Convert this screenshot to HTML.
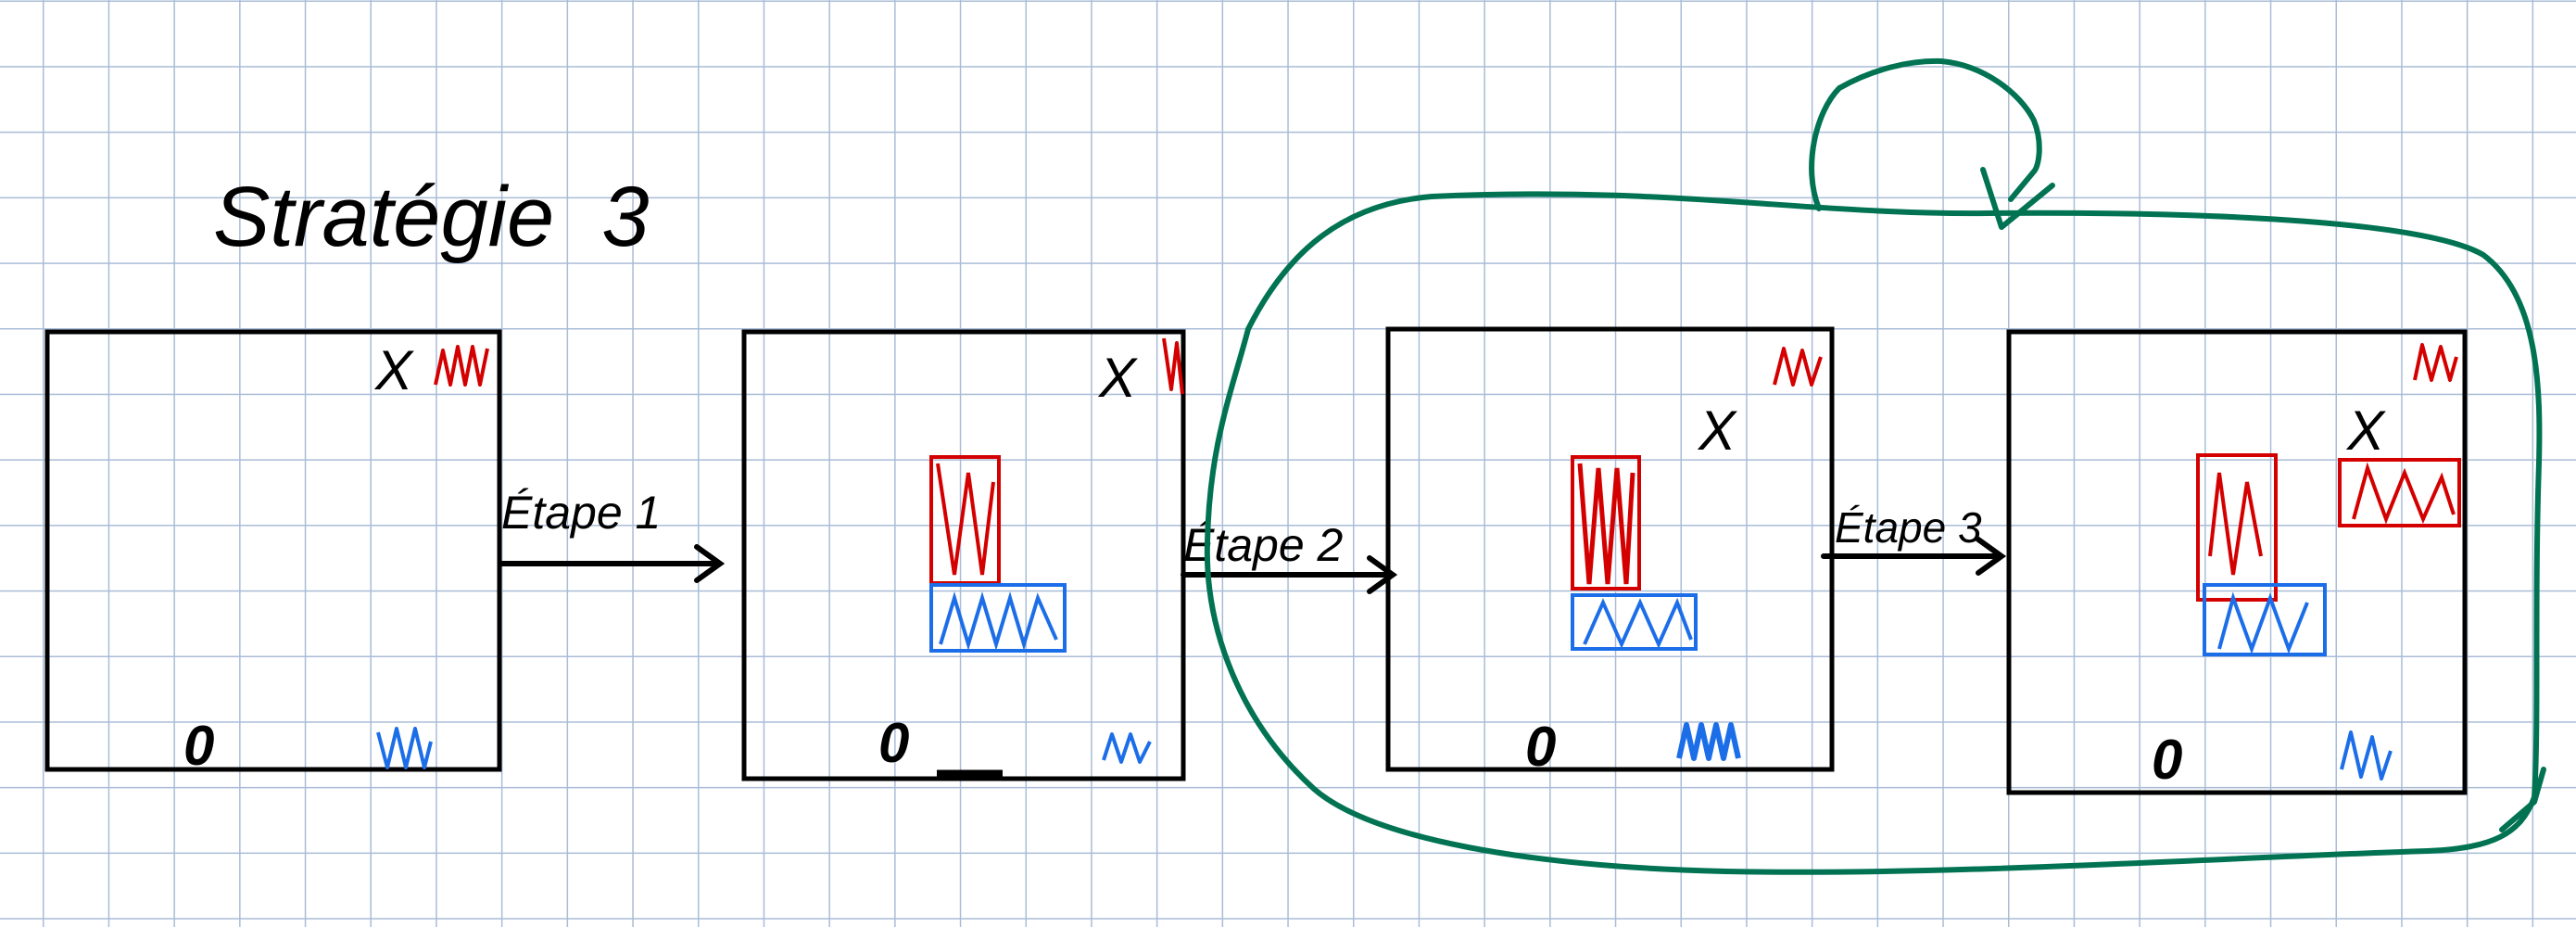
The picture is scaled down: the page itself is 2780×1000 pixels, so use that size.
<!DOCTYPE html>
<html><head><meta charset="utf-8"><style>
html,body{margin:0;padding:0;background:#fff;}
svg{display:block;}
text{font-family:"Liberation Sans",sans-serif;}
</style></head><body>
<svg width="2780" height="1000" viewBox="0 0 2780 1000">
<defs>
<pattern id="grid" x="46" y="0.5" width="70.7" height="70.7" patternUnits="userSpaceOnUse">
<path d="M0 0 H70.7 M0 0 V70.7" stroke="#a9bcd7" stroke-width="3" fill="none"/>
</pattern>
</defs>
<rect width="2780" height="1000" fill="url(#grid)"/>

<text x="230" y="265" font-size="92" font-style="italic" fill="#000">Stratégie&#160;&#160;3</text>

<g stroke="#000" stroke-width="5" fill="none">
<rect x="51" y="358" width="488" height="472"/>
<rect x="803" y="358" width="474" height="482"/>
<rect x="1498" y="355" width="479" height="475"/>
<rect x="2168" y="358" width="492" height="497"/>
</g>

<!-- arrows -->
<g stroke="#000" stroke-width="6" fill="none" stroke-linecap="round">
<path d="M541 608 H775 M752 590 L777 608 L752 626"/>
<path d="M1277 620 H1501 M1478 602 L1503 620 L1478 638"/>
<path d="M1968 600 H2158 M2135 582 L2160 600 L2135 618"/>
</g>
<text x="541" y="570" font-size="50" font-style="italic">Étape 1</text>
<text x="1277" y="605" font-size="50" font-style="italic">Étape 2</text>
<text x="1980" y="585" font-size="46" font-style="italic">Étape 3</text>

<!-- X marks and O marks -->
<g font-size="60" font-style="italic" fill="#000">
<text x="405" y="420">X</text>
<text x="1186" y="428">X</text>
<text x="1833" y="485">X</text>
<text x="2533" y="485">X</text>
<text x="198" y="825" font-weight="bold">0</text>
<text x="948" y="822" font-weight="bold">0</text>
<text x="1646" y="826" font-weight="bold">0</text>
<text x="2322" y="840" font-weight="bold">0</text>
</g>
<path d="M1011 834 H1082" stroke="#000" stroke-width="7"/>

<!-- scribbles -->
<g fill="none" stroke-width="4" stroke-linejoin="round">
<polyline stroke="#d40000" points="470,415 478,378 486,415 494,374 502,415 510,374 518,415 526,376"/>
<polyline stroke="#1c6ee8" points="408,790 418,828 428,786 438,828 448,786 458,828 465,800"/>
<polyline stroke="#d40000" points="1256,365 1264,420 1270,370 1276,425"/>
<polyline stroke="#1c6ee8" points="1191,820 1200,792 1210,822 1220,792 1230,822 1241,800"/>
<polyline stroke="#d40000" points="1915,415 1925,376 1935,415 1945,378 1955,415 1965,385"/>
<polyline stroke="#1c6ee8" stroke-width="6" points="1812,818 1820,782 1828,818 1836,782 1844,818 1852,782 1860,818 1868,782 1876,818"/>
<polyline stroke="#d40000" points="2606,410 2614,372 2624,410 2634,374 2644,410 2651,385"/>
<polyline stroke="#1c6ee8" points="2527,830 2537,790 2548,838 2560,795 2570,840 2580,810"/>
</g>

<!-- pieces -->
<g fill="none" stroke-width="4">
<rect x="1005" y="493" width="73" height="136" stroke="#d40000"/>
<polyline stroke="#d40000" points="1012,500 1030,620 1045,510 1060,620 1072,520"/>
<rect x="1005" y="631" width="144" height="71" stroke="#1c6ee8"/>
<polyline stroke="#1c6ee8" points="1015,695 1030,645 1045,695 1060,645 1075,695 1090,645 1105,695 1120,645 1140,690"/>

<rect x="1697" y="493" width="72" height="142" stroke="#d40000"/>
<polyline stroke="#d40000" stroke-width="5" points="1705,500 1715,630 1725,505 1735,630 1745,505 1755,630 1762,510"/>
<rect x="1697" y="642" width="133" height="58" stroke="#1c6ee8"/>
<polyline stroke="#1c6ee8" points="1710,695 1730,650 1750,695 1770,650 1790,695 1810,650 1825,690"/>

<rect x="2372" y="491" width="84" height="156" stroke="#d40000"/>
<polyline stroke="#d40000" points="2385,600 2395,510 2410,620 2425,520 2440,600"/>
<rect x="2525" y="496" width="129" height="71" stroke="#d40000"/>
<polyline stroke="#d40000" points="2540,560 2555,505 2575,560 2595,510 2615,560 2635,515 2648,555"/>
<rect x="2379" y="631" width="130" height="75" stroke="#1c6ee8"/>
<polyline stroke="#1c6ee8" points="2395,700 2410,645 2430,700 2450,645 2470,700 2490,650"/>
</g>

<!-- green loop -->
<g fill="none" stroke="#017352" stroke-width="6" stroke-linecap="round" stroke-linejoin="round">
<path d="M1545 212 C1800 200 1950 232 2145 230 C2400 228 2620 240 2680 275 C2740 320 2742 420 2740 500 C2735 650 2740 780 2735 860 C2720 900 2690 915 2620 918 C2400 925 2100 945 1862 940 C1650 935 1480 905 1418 851 C1340 780 1300 680 1303 585 C1305 480 1330 420 1347 355 C1390 270 1450 220 1545 212"/>
<path d="M1963 225 C1945 180 1960 120 1985 95 C2020 75 2060 65 2095 66 C2140 70 2180 100 2195 130 C2205 155 2200 180 2195 185 L2170 215"/>
<path d="M2140 183 L2160 245 L2215 200"/>
<path d="M2700 895 L2735 865 L2745 830"/>
</g>
</svg>
</body></html>
